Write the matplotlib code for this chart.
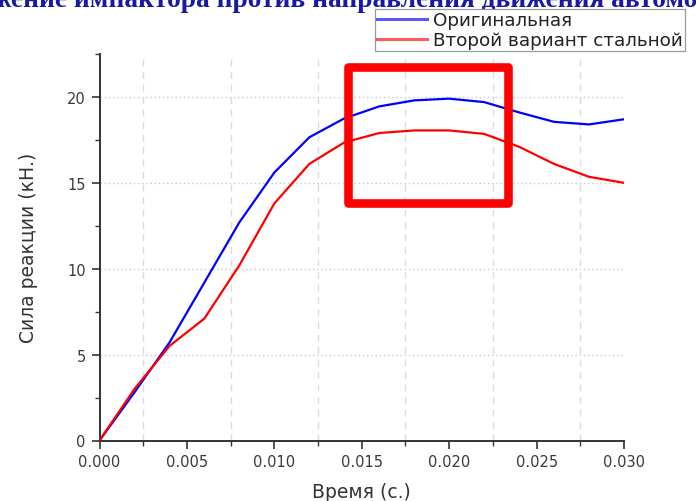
import numpy as np
import matplotlib
matplotlib.use("Agg")
import matplotlib.pyplot as plt
from matplotlib.patches import Rectangle
from matplotlib.ticker import MultipleLocator, FormatStrFormatter

# Time samples (s) and reaction force (kN) for the two designs
time_s = [0.000, 0.002, 0.004, 0.006, 0.008, 0.010, 0.012, 0.014,
          0.016, 0.018, 0.020, 0.022, 0.024, 0.026, 0.028, 0.030]
force_original = [0.0, 2.8, 5.7, 9.2, 12.7, 15.6, 17.65, 18.75,
                  19.45, 19.8, 19.9, 19.7, 19.1, 18.55, 18.4, 18.7]
force_steel_v2 = [0.0, 3.0, 5.5, 7.1, 10.2, 13.8, 16.1, 17.35,
                  17.9, 18.05, 18.05, 17.85, 17.1, 16.1, 15.35, 15.0]

series_labels = ["Оригинальная", "Второй вариант стальной"]
series_colors = ["#0000ff", "#ff0000"]

title_text = "Движение импактора против направления движения автомобиля"
x_label = "Время (с.)"
y_label = "Сила реакции (кН.)"

# Highlighted region (time range, force range)
box_t = [0.01422, 0.02336]
box_f = [13.85, 21.72]

W, H = 696, 502
plt.rcParams["font.family"] = ["DejaVu Sans"]
fig = plt.figure(figsize=(W / 100, H / 100), dpi=100)

ax = fig.add_axes([99.5 / W, 1 - 441.5 / H, (624 - 99.5) / W, (441.5 - 55) / H])

lines = []
for ys, lab, col in zip([force_original, force_steel_v2], series_labels, series_colors):
    ln, = ax.plot(time_s, ys, color=col, lw=1.6, label=lab, zorder=3,
                  solid_joinstyle="round")
    lines.append(ln)

ax.set_xlim(0, 0.030)
ax.set_ylim(0, 22.5)
ax.xaxis.set_major_locator(MultipleLocator(0.005))
ax.xaxis.set_minor_locator(MultipleLocator(0.0025))
ax.yaxis.set_major_locator(MultipleLocator(5))
ax.yaxis.set_minor_locator(MultipleLocator(2.5))
ax.xaxis.set_major_formatter(FormatStrFormatter("%.3f"))

for side in ("top", "right"):
    ax.spines[side].set_visible(False)
for side in ("left", "bottom"):
    ax.spines[side].set_linewidth(1.4)
    ax.spines[side].set_color("#333333")

ax.tick_params(axis="both", which="major", direction="out", length=6, width=1.2,
               color="#333333", labelsize=10.5, labelcolor="#3a3a3a", pad=4)
ax.tick_params(axis="both", which="minor", direction="out", length=3.5, width=1.0,
               color="#333333")

# grid: dotted at major force levels, dashed at minor time marks
for yv in [5, 10, 15, 20]:
    ax.axhline(yv, color="#c8c8c8", lw=1.0, ls=(0, (1, 2)), zorder=1)
for xv in np.arange(0.0025, 0.030, 0.005):
    ax.axvline(xv, color="#dcdcdc", lw=1.0, ls=(0, (5, 4)), zorder=1)

ax.set_xlabel(x_label, fontsize=13.5, color="#333333", labelpad=9)
ax.set_ylabel(y_label, fontsize=13.5, color="#333333", labelpad=21)

# highlight frame
rect = Rectangle((box_t[0], box_f[0]), box_t[1] - box_t[0], box_f[1] - box_f[0],
                 fill=False, edgecolor="#ff0000", lw=6.2, joinstyle="round",
                 zorder=5, clip_on=False)
ax.add_patch(rect)

leg = fig.legend(handles=lines, labels=series_labels, loc="upper left",
                 bbox_to_anchor=(375 / W, 1 - 10 / H), fontsize=13.2,
                 handlelength=2.7, handletextpad=0.35, labelspacing=0.1,
                 borderpad=0.12, borderaxespad=0, fancybox=False,
                 framealpha=1, edgecolor="#9a9a9a")
leg.get_frame().set_linewidth(0.9)
for t in leg.get_texts():
    t.set_color("#222222")
for h in leg.get_lines():
    h.set_alpha(0.65)
    h.set_linewidth(2.2)

# page heading above the chart, partly cut by the image edge
title_kw = dict(fontsize=19.7, fontweight="bold", family=["Liberation Serif"],
                color="#1a1aa0")
renderer = fig.canvas.get_renderer()
probe = fig.text(0, 0, "Дви", **title_kw)
prefix_w = probe.get_window_extent(renderer=renderer).width
probe.remove()
fig.text((-8 - prefix_w) / W, 1 - 7 / H, title_text, ha="left", va="baseline",
         **title_kw)

fig.savefig("out.png", dpi=100)
